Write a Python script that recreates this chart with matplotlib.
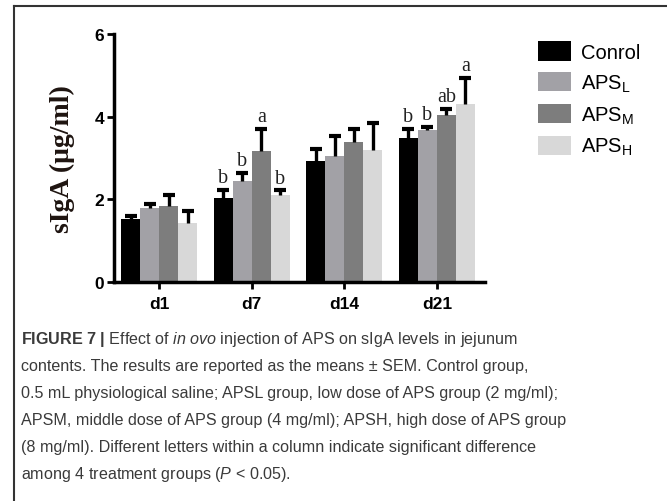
import matplotlib
matplotlib.use('Agg')
import matplotlib.pyplot as plt
from matplotlib.patches import Patch
import numpy as np

# data
days = ['d1', 'd7', 'd14', 'd21']
groups = ['Conrol', r'APS$_\mathregular{L}$', r'APS$_\mathregular{M}$', r'APS$_\mathregular{H}$']
control = [1.52, 2.03, 2.92, 3.48]
aps_l = [1.79, 2.45, 3.05, 3.68]
aps_m = [1.84, 3.17, 3.38, 4.04]
aps_h = [1.43, 2.10, 3.20, 4.31]
control_err = [0.08, 0.20, 0.30, 0.22]
aps_l_err = [0.10, 0.19, 0.49, 0.07]
aps_m_err = [0.26, 0.53, 0.32, 0.15]
aps_h_err = [0.29, 0.12, 0.66, 0.63]
letters = {1: ['b', 'b', 'a', 'b'], 3: ['b', 'b', 'ab', 'a']}

colors = ['#000000', '#a2a1a6', '#7d7d7d', '#d8d8d8']

plt.rcParams['mathtext.fontset'] = 'custom'
plt.rcParams['mathtext.rm'] = 'Liberation Sans'
plt.rcParams['mathtext.it'] = 'Liberation Sans:italic'
plt.rcParams['mathtext.bf'] = 'Liberation Sans:bold'

fig = plt.figure(figsize=(6.67, 5.02), dpi=100)
ax = fig.add_axes([0.171, 0.436, 0.556, 0.494])

values = [control, aps_l, aps_m, aps_h]
errs = [control_err, aps_l_err, aps_m_err, aps_h_err]
x = np.arange(len(days))
w = 0.205
for i in range(4):
    xs = x + (i - 1.5) * w
    ax.bar(xs, values[i], w, color=colors[i], zorder=2)
    eb = ax.errorbar(xs, values[i], yerr=[np.zeros(4), errs[i]], fmt='none',
                     ecolor='black', elinewidth=2.4, capsize=4, capthick=3, zorder=3)
    eb[1][0].set_visible(False)  # only the upper cap

for d, labs in letters.items():
    for i, lab in enumerate(labs):
        top = values[i][d] + errs[i][d]
        ax.annotate(lab, (x[d] + (i - 1.5) * w, top), xytext=(0, 2),
                    textcoords='offset points', ha='center', va='bottom',
                    fontsize=14.5, family='Liberation Serif', color='#222222')

ax.set_xlim(-0.49, 3.52)
ax.set_ylim(0, 6)
ax.set_yticks([0, 2, 4, 6])
ax.set_xticks(x)
ax.set_xticklabels(days)
for s in ['top', 'right']:
    ax.spines[s].set_visible(False)
for s in ['left', 'bottom']:
    ax.spines[s].set_linewidth(2.5)
ax.tick_params(width=2, length=5, labelsize=12.5, pad=2)
ax.tick_params(axis='x', pad=5)
for lab in ax.get_xticklabels() + ax.get_yticklabels():
    lab.set_fontweight('bold')
    lab.set_family('Liberation Sans')
ax.set_ylabel('sIgA (μg/ml)', fontsize=20, fontweight='bold',
              family='Liberation Serif', color='#1e1410', labelpad=14)

handles = [Patch(facecolor=c, edgecolor='none') for c in colors]
fig.legend(handles, groups, loc='upper left', bbox_to_anchor=(0.78, 0.952),
           frameon=False, handlelength=1.6, handleheight=1.1, labelspacing=0.5,
           handletextpad=0.5, prop={'family': 'Liberation Sans', 'size': 14.5})

# frame
fig.add_artist(plt.Line2D([0.021, 0.021], [0, 0.986], color='#333333', lw=1.5))
fig.add_artist(plt.Line2D([0.021, 1.0], [0.986, 0.986], color='#333333', lw=1.5))

cap = [r'$\mathbf{FIGURE\ 7\ |}$ Effect of $\mathit{in\ ovo}$ injection of APS on sIgA levels in jejunum',
       'contents. The results are reported as the means \u00b1 SEM. Control group,',
       '0.5 mL physiological saline; APSL group, low dose of APS group (2 mg/ml);',
       'APSM, middle dose of APS group (4 mg/ml); APSH, high dose of APS group',
       '(8 mg/ml). Different letters within a column indicate significant difference',
       r'among 4 treatment groups ($\mathit{P}$ < 0.05).']
ys = [340, 367, 394, 421, 448, 475]
for t, yy in zip(cap, ys):
    fig.text(0.032, 1 - yy / 502, t, fontsize=11.6, color='#3a3a3a',
             family='Liberation Sans', va='center')

fig.savefig('out.png', dpi=100)
